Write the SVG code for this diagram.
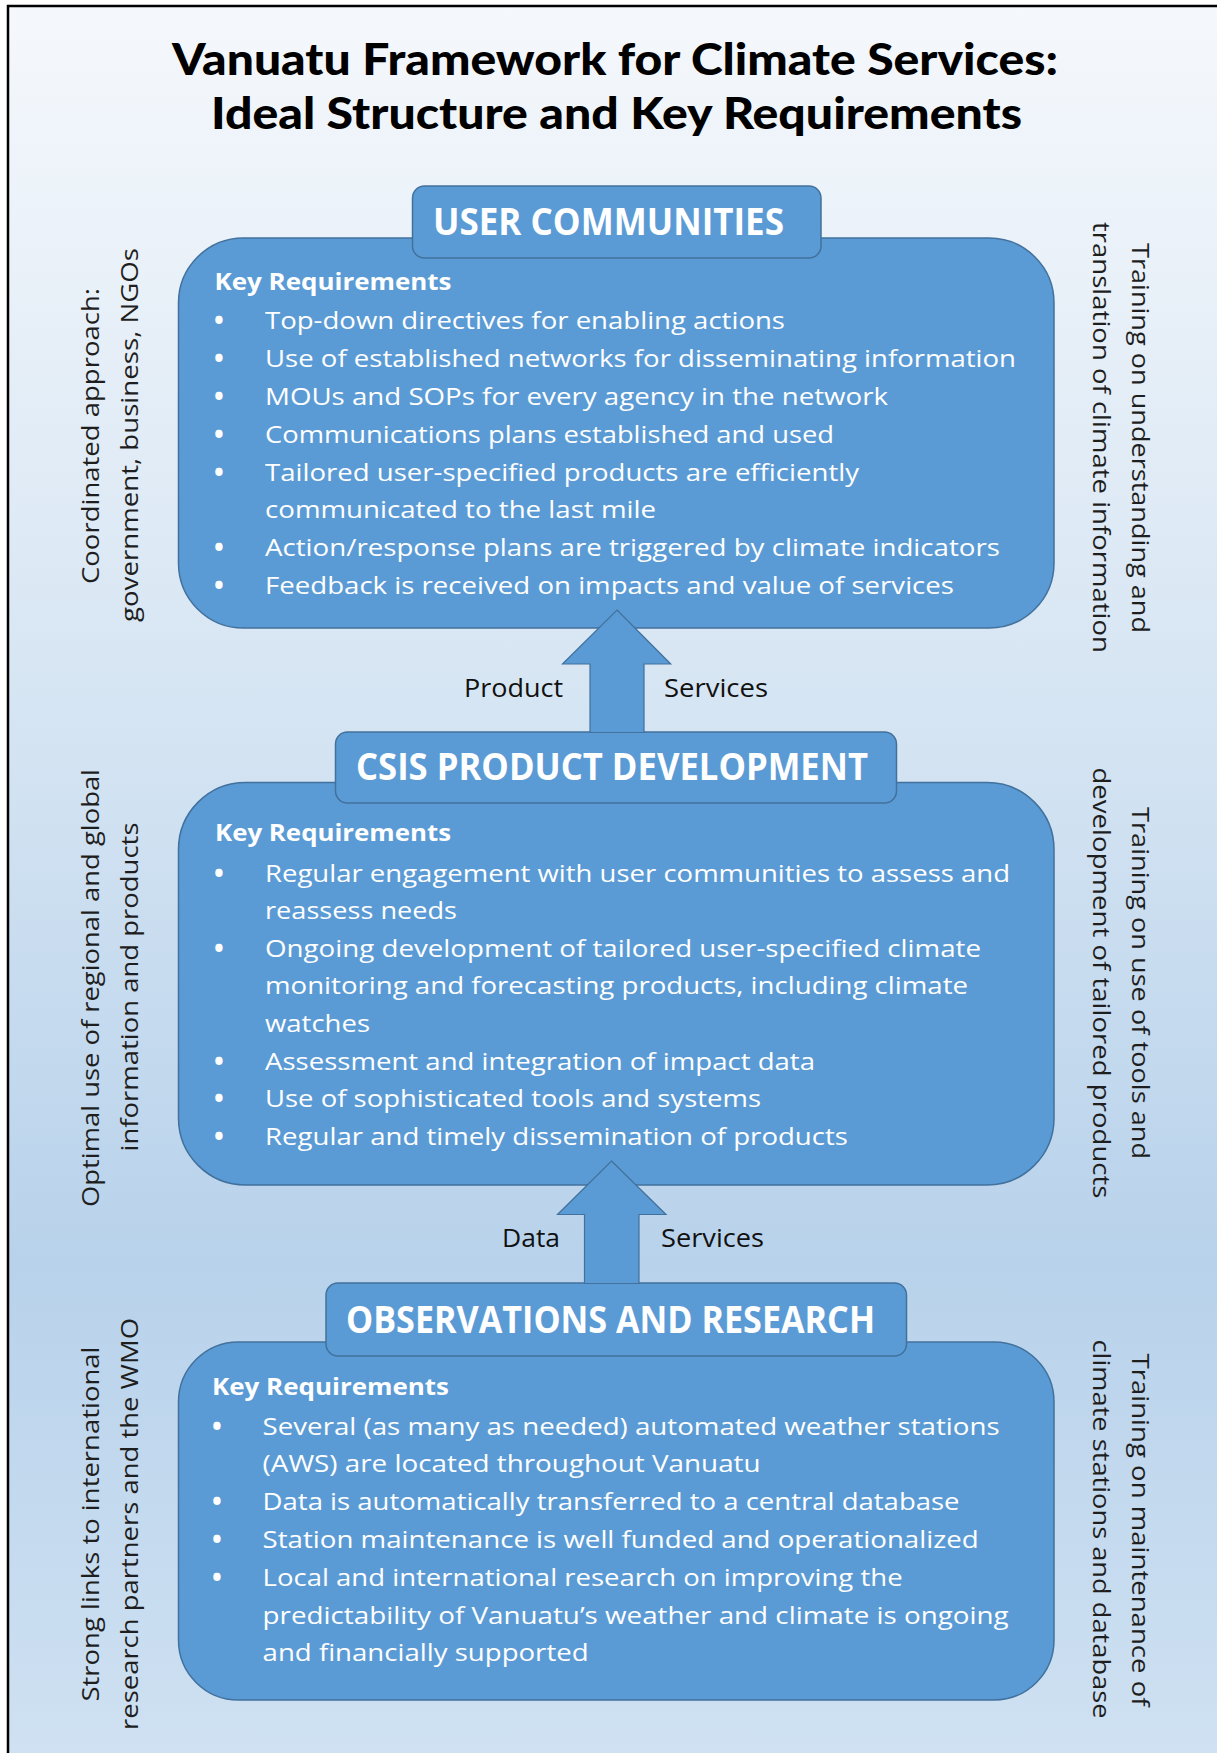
<svg xmlns="http://www.w3.org/2000/svg" width="1217" height="1753" viewBox="0 0 1217 1753">
<defs>
<linearGradient id="bg" x1="0" y1="0" x2="0" y2="1">
<stop offset="0" stop-color="#f5f8fc"/>
<stop offset="0.4" stop-color="#d6e5f3"/>
<stop offset="0.72" stop-color="#b8d2eb"/>
<stop offset="1" stop-color="#cfe1f2"/>
</linearGradient>
<style>
.box{fill:#5b9bd5;stroke:#41719c;stroke-width:1.5}
.hdrbox{fill:#5b9bd5;stroke:#41719c;stroke-width:1.5}
.hdr{font-family:"Open Sans","Noto Sans",sans-serif;font-weight:700;font-size:38px;fill:#fff;text-anchor:middle}
.body{font-family:"Open Sans","Noto Sans",sans-serif;font-size:24px;fill:#fff}
.kr{font-weight:700}
.bul{text-anchor:middle;font-size:26px;font-weight:700}
.side{font-family:"Open Sans","Noto Sans",sans-serif;font-size:24px;fill:#1e1e1e;text-anchor:middle}
.lbl{font-family:"Open Sans","Noto Sans",sans-serif;font-size:26px;fill:#111}
.title{font-family:Lato,"DejaVu Sans",sans-serif;font-weight:900;font-size:43px;fill:#000;text-anchor:middle}
.arrow{fill:#5b9bd5;stroke:#41719c;stroke-width:1.2}
</style>
</defs>
<rect x="0" y="0" width="1217" height="1753" fill="#ffffff"/>
<rect x="8" y="6" width="1209" height="1747" fill="url(#bg)"/>
<path d="M8,1753 V6 H1217" fill="none" stroke="#000" stroke-width="2.5"/>

<g id="title">
<text class="title" x="615" y="74.5" textLength="886" lengthAdjust="spacingAndGlyphs">Vanuatu Framework for Climate Services:</text>
<text class="title" x="616.5" y="128.5" textLength="811" lengthAdjust="spacingAndGlyphs">Ideal Structure and Key Requirements</text>
</g>

<g id="node-user-communities">
<rect class="box" x="178.5" y="238" width="875.5" height="390" rx="65" ry="65"/>
<rect class="hdrbox" x="412.5" y="186" width="408.5" height="72" rx="12" ry="12"/>
<text class="hdr" x="608.5" y="235" textLength="351" lengthAdjust="spacingAndGlyphs">USER COMMUNITIES</text>
<g class="body">
<text class="kr" x="214.5" y="290" textLength="237" lengthAdjust="spacingAndGlyphs">Key Requirements</text>
<text class="bul" x="219" y="330.3">•</text>
<text x="265" y="329.3" textLength="520" lengthAdjust="spacingAndGlyphs">Top-down directives for enabling actions</text>
<text class="bul" x="219" y="368.1">•</text>
<text x="265" y="367.1" textLength="751" lengthAdjust="spacingAndGlyphs">Use of established networks for disseminating information</text>
<text class="bul" x="219" y="405.9">•</text>
<text x="265" y="404.9" textLength="623" lengthAdjust="spacingAndGlyphs">MOUs and SOPs for every agency in the network</text>
<text class="bul" x="219" y="443.7">•</text>
<text x="265" y="442.7" textLength="569" lengthAdjust="spacingAndGlyphs">Communications plans established and used</text>
<text class="bul" x="219" y="481.5">•</text>
<text x="265" y="480.5" textLength="594" lengthAdjust="spacingAndGlyphs">Tailored user-specified products are efficiently</text>
<text x="265" y="518.3" textLength="391" lengthAdjust="spacingAndGlyphs">communicated to the last mile</text>
<text class="bul" x="219" y="557.1">•</text>
<text x="265" y="556.1" textLength="735" lengthAdjust="spacingAndGlyphs">Action/response plans are triggered by climate indicators</text>
<text class="bul" x="219" y="594.9">•</text>
<text x="265" y="593.9" textLength="689" lengthAdjust="spacingAndGlyphs">Feedback is received on impacts and value of services</text>
</g>
</g>

<g id="node-csis-product-development">
<rect class="box" x="178.5" y="782.5" width="875.5" height="402.5" rx="67" ry="67"/>
<rect class="hdrbox" x="335.5" y="732" width="561" height="71" rx="12" ry="12"/>
<text class="hdr" x="612" y="780" textLength="512" lengthAdjust="spacingAndGlyphs">CSIS PRODUCT DEVELOPMENT</text>
<g class="body">
<text class="kr" x="215" y="841" textLength="236" lengthAdjust="spacingAndGlyphs">Key Requirements</text>
<text class="bul" x="219" y="882.5">•</text>
<text x="265" y="881.5" textLength="745" lengthAdjust="spacingAndGlyphs">Regular engagement with user communities to assess and</text>
<text x="265" y="919.1" textLength="192" lengthAdjust="spacingAndGlyphs">reassess needs</text>
<text class="bul" x="219" y="957.7">•</text>
<text x="265" y="956.7" textLength="716" lengthAdjust="spacingAndGlyphs">Ongoing development of tailored user-specified climate</text>
<text x="265" y="994.3" textLength="703" lengthAdjust="spacingAndGlyphs">monitoring and forecasting products, including climate</text>
<text x="265" y="1031.9" textLength="105" lengthAdjust="spacingAndGlyphs">watches</text>
<text class="bul" x="219" y="1070.5">•</text>
<text x="265" y="1069.5" textLength="550" lengthAdjust="spacingAndGlyphs">Assessment and integration of impact data</text>
<text class="bul" x="219" y="1108.1">•</text>
<text x="265" y="1107.1" textLength="496" lengthAdjust="spacingAndGlyphs">Use of sophisticated tools and systems</text>
<text class="bul" x="219" y="1145.7">•</text>
<text x="265" y="1144.7" textLength="583" lengthAdjust="spacingAndGlyphs">Regular and timely dissemination of products</text>
</g>
</g>

<g id="node-observations-and-research">
<rect class="box" x="178.5" y="1342" width="875.5" height="358" rx="60" ry="60"/>
<rect class="hdrbox" x="326" y="1283" width="580.5" height="73" rx="12" ry="12"/>
<text class="hdr" x="610.5" y="1333" textLength="529" lengthAdjust="spacingAndGlyphs">OBSERVATIONS AND RESEARCH</text>
<g class="body">
<text class="kr" x="212" y="1395.3" textLength="237" lengthAdjust="spacingAndGlyphs">Key Requirements</text>
<text class="bul" x="217" y="1435.5">•</text>
<text x="262.6" y="1434.5" textLength="737" lengthAdjust="spacingAndGlyphs">Several (as many as needed) automated weather stations</text>
<text x="262.6" y="1472.3" textLength="498" lengthAdjust="spacingAndGlyphs">(AWS) are located throughout Vanuatu</text>
<text class="bul" x="217" y="1511.1">•</text>
<text x="262.6" y="1510.1" textLength="697" lengthAdjust="spacingAndGlyphs">Data is automatically transferred to a central database</text>
<text class="bul" x="217" y="1548.9">•</text>
<text x="262.6" y="1547.9" textLength="716" lengthAdjust="spacingAndGlyphs">Station maintenance is well funded and operationalized</text>
<text class="bul" x="217" y="1586.7">•</text>
<text x="262.6" y="1585.7" textLength="640" lengthAdjust="spacingAndGlyphs">Local and international research on improving the</text>
<text x="262.6" y="1623.5" textLength="746" lengthAdjust="spacingAndGlyphs">predictability of Vanuatu’s weather and climate is ongoing</text>
<text x="262.6" y="1661.3" textLength="326" lengthAdjust="spacingAndGlyphs">and financially supported</text>
</g>
</g>

<g id="side-labels">
<text class="side" transform="translate(99,436) rotate(-90)" textLength="296" lengthAdjust="spacingAndGlyphs">Coordinated approach:</text>
<text class="side" transform="translate(137.5,435) rotate(-90)" textLength="374" lengthAdjust="spacingAndGlyphs">government, business, NGOs</text>
<text class="side" transform="translate(1132,438) rotate(90)" textLength="390" lengthAdjust="spacingAndGlyphs">Training on understanding and</text>
<text class="side" transform="translate(1093,437.5) rotate(90)" textLength="431" lengthAdjust="spacingAndGlyphs">translation of climate information</text>

<text class="side" transform="translate(99,988) rotate(-90)" textLength="438" lengthAdjust="spacingAndGlyphs">Optimal use of regional and global</text>
<text class="side" transform="translate(137.5,987) rotate(-90)" textLength="329" lengthAdjust="spacingAndGlyphs">information and products</text>
<text class="side" transform="translate(1132,983) rotate(90)" textLength="352" lengthAdjust="spacingAndGlyphs">Training on use of tools and</text>
<text class="side" transform="translate(1093,983) rotate(90)" textLength="431" lengthAdjust="spacingAndGlyphs">development of tailored products</text>

<text class="side" transform="translate(99,1524) rotate(-90)" textLength="355" lengthAdjust="spacingAndGlyphs">Strong links to international</text>
<text class="side" transform="translate(137.5,1524) rotate(-90)" textLength="412" lengthAdjust="spacingAndGlyphs">research partners and the WMO</text>
<text class="side" transform="translate(1132,1530) rotate(90)" textLength="353" lengthAdjust="spacingAndGlyphs">Training on maintenance of</text>
<text class="side" transform="translate(1093,1529) rotate(90)" textLength="379" lengthAdjust="spacingAndGlyphs">climate stations and database</text>
</g>

<g id="connectors">
<path class="arrow" d="M617,610 L670.7,664 L644,664 L644,732.5 L590,732.5 L590,664 L562.5,664 Z"/>
<text class="lbl" x="464" y="696.7" textLength="99" lengthAdjust="spacingAndGlyphs">Product</text>
<text class="lbl" x="664" y="696.7" textLength="104" lengthAdjust="spacingAndGlyphs">Services</text>
<path class="arrow" d="M611.5,1161 L666,1214.5 L639,1214.5 L639,1283.5 L584.5,1283.5 L584.5,1214.5 L557.5,1214.5 Z"/>
<text class="lbl" x="502" y="1247" textLength="58" lengthAdjust="spacingAndGlyphs">Data</text>
<text class="lbl" x="661" y="1247" textLength="103" lengthAdjust="spacingAndGlyphs">Services</text>
</g>
</svg>
